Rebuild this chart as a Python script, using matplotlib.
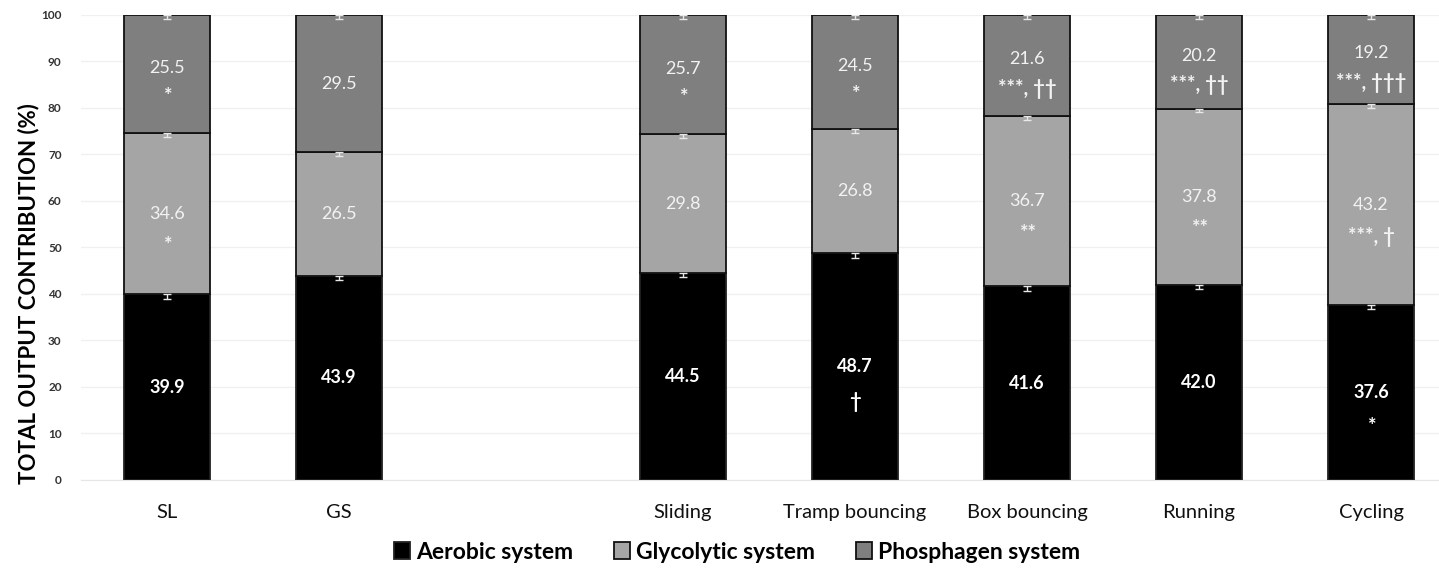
import numpy as np
import matplotlib.pyplot as plt

plt.rcParams['font.family'] = ['Lato', 'DejaVu Sans']

# data
groups = ['SL', 'GS', '', 'Sliding', 'Tramp bouncing', 'Box bouncing', 'Running', 'Cycling']
aerobic = [39.9, 43.9, 0, 44.5, 48.7, 41.6, 42.0, 37.6]
glycolytic = [34.6, 26.5, 0, 29.8, 26.8, 36.7, 37.8, 43.2]
phosphagen = [25.5, 29.5, 0, 25.7, 24.5, 21.6, 20.2, 19.2]
err_aer = [1.0, 0.9, 0, 0.9, 0.9, 1.0, 1.0, 0.8]
err_gly = [0.8, 0.8, 0, 0.8, 0.9, 0.9, 0.8, 0.8]
err_pho = [0.9, 0.9, 0, 0.8, 0.8, 0.9, 0.8, 0.8]
sig_aer = ['', '', '', '', '\u2020', '', '', '*']
sig_gly = ['*', '', '', '', '', '**', '**', '***, \u2020']
sig_pho = ['*', '', '', '*', '*', '***, \u2020\u2020', '***, \u2020\u2020', '***, \u2020\u2020\u2020']

x = np.arange(len(groups))
w = 0.5
show = np.array([g != '' for g in groups])
aer = np.array(aerobic)
gly = np.array(glycolytic)
pho = np.array(phosphagen)

fig = plt.figure(figsize=(14.39, 5.7), dpi=100)
ax = fig.add_axes([0.0563, 0.158, 0.9437, 0.816])

ax.bar(x[show], aer[show], w, color='black', edgecolor='#222222', lw=1.3,
       label='Aerobic system', zorder=3)
ax.bar(x[show], gly[show], w, bottom=aer[show], color='#a5a5a5', edgecolor='#111111',
       lw=1.3, label='Glycolytic system', zorder=3)
ax.bar(x[show], pho[show], w, bottom=(aer + gly)[show], color='#7f7f7f',
       edgecolor='#111111', lw=1.3, label='Phosphagen system', zorder=3)

# error bars (downward only)
tops = [aer, aer + gly, aer + gly + pho]
errs = [err_aer, err_gly, err_pho]
for t, e in zip(tops, errs):
    e = np.array(e)
    ax.errorbar(x[show], t[show], yerr=[e[show], np.zeros(show.sum())], fmt='none',
                ecolor='#e8e8e8', elinewidth=1, capsize=3, capthick=1, zorder=4)

fs = 13
sfs = 14.5
for i in x[show]:
    c = aer[i] / 2
    ax.text(i, c, f'{aer[i]:.1f}', color='white', ha='center', va='center',
            fontsize=fs, fontweight='bold', zorder=5)
    if sig_aer[i]:
        ax.text(i, c - 7.5, sig_aer[i], color='white', ha='center', va='center',
                fontsize=sfs, fontweight='bold', zorder=5)
    c = aer[i] + gly[i] / 2
    ax.text(i, c, f'{gly[i]:.1f}', color='#f2f2f2', ha='center', va='center',
            fontsize=fs, zorder=5)
    if sig_gly[i]:
        ax.text(i, c - 7, sig_gly[i], color='#f2f2f2', ha='center', va='center',
                fontsize=sfs, fontweight='bold', zorder=5)
    c = aer[i] + gly[i] + pho[i] / 2
    if sig_pho[i]:
        ax.text(i, c + 1.3, f'{pho[i]:.1f}', color='#f2f2f2', ha='center', va='center',
                fontsize=fs, zorder=5)
        ax.text(i, c - 5, sig_pho[i], color='#f2f2f2', ha='center', va='center',
                fontsize=sfs, fontweight='bold', zorder=5)
    else:
        ax.text(i, c, f'{pho[i]:.1f}', color='#f2f2f2', ha='center', va='center',
                fontsize=fs, zorder=5)

ax.set_xlim(-0.5, 7.395)
ax.set_ylim(0, 100)
ax.set_yticks(np.arange(0, 101, 10))
ax.set_xticks(x[show])
ax.set_xticklabels([g for g in groups if g], fontsize=14.5, color='#111111')
ax.tick_params(axis='x', length=0, pad=17)
ax.tick_params(axis='y', length=0, pad=14, labelsize=8.5, labelcolor='#333333')
for lab in ax.get_yticklabels():
    lab.set_fontweight('bold')
ax.grid(axis='y', color='#f0f0f0', lw=1, zorder=0)
for s in ['top', 'right', 'left']:
    ax.spines[s].set_visible(False)
ax.spines['bottom'].set_color('#e6e6e6')
ax.set_ylabel('TOTAL OUTPUT CONTRIBUTION (%)', fontsize=16, fontweight='bold')
ax.yaxis.set_label_coords(-0.031, 0.40)

ax.legend(loc='center', bbox_to_anchor=(0.483, -0.155), ncol=3, frameon=False,
          prop={'weight': 'bold', 'size': 16.5}, handlelength=0.7, handleheight=0.7,
          handletextpad=0.25, columnspacing=1.8)

plt.savefig('out.png', dpi=100)
